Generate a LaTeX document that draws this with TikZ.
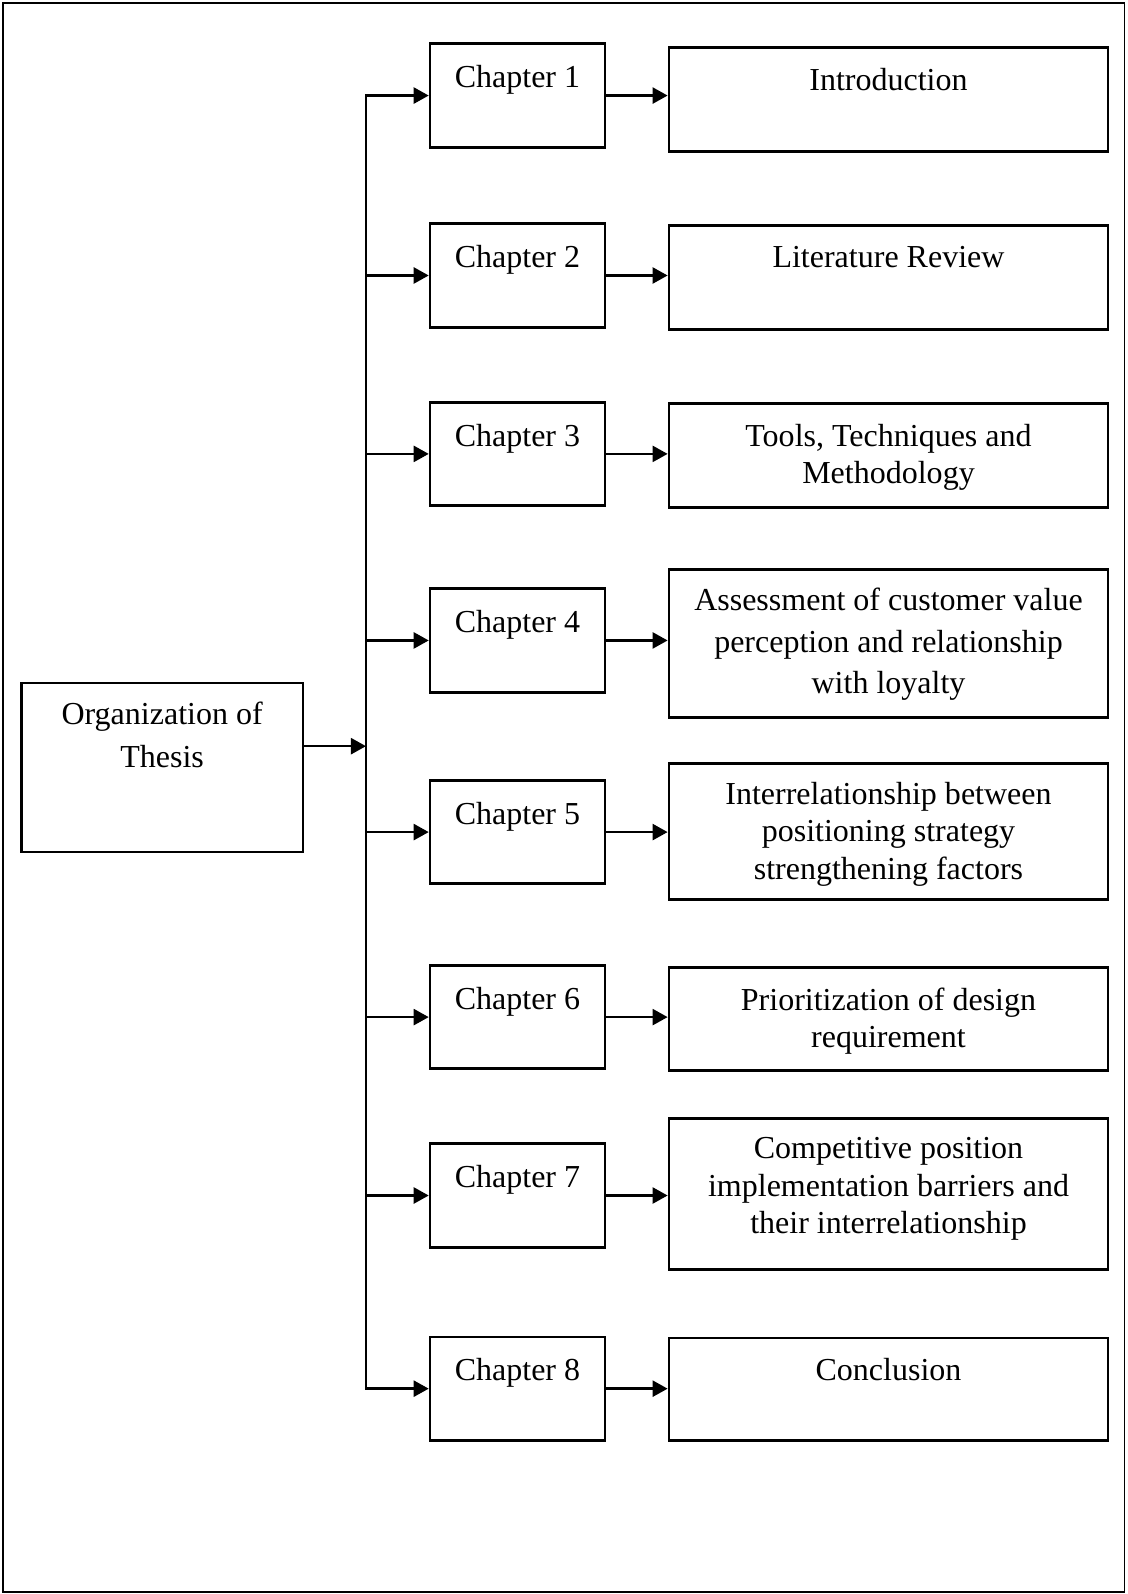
\documentclass[tikz,border=0pt]{standalone}
\usepackage{fontspec}
\setmainfont{Liberation Serif}
\usetikzlibrary{arrows.meta,fit}
\begin{document}
\begin{tikzpicture}[x=0.50812pt,y=-0.50812pt,
  box/.style={draw, line width=1.3pt, inner sep=0pt},
  txt/.style={anchor=north, inner sep=0pt, align=center,
              font=\fontsize{16pt}{18.8pt}\selectfont},
  lh/.style={font=\fontsize{16pt}{#1}\selectfont},
  wire/.style={line width=1.2pt},
  conn/.style={wire, -{Triangle[length=7.5pt,width=8pt]}}]

\useasboundingbox (0,0) rectangle (1109,1568);
\draw[line width=0.8pt] (3,3) rectangle (1106,1566);

% root box
\node[box, fit={(21,672) (298,838)}] (org) {};
\node[txt, lh=21.3pt] (orgt) at (159.5,690) {Organization of\\Thesis};

% chapter boxes
\node[box, fit={(423,43)   (595,145)}]  (c1) {};
\node[box, fit={(423,220)  (595,322)}]  (c2) {};
\node[box, fit={(423,396)  (595,497)}]  (c3) {};
\node[box, fit={(423,579)  (595,681)}]  (c4) {};
\node[box, fit={(423,768)  (595,869)}]  (c5) {};
\node[box, fit={(423,950)  (595,1051)}] (c6) {};
\node[box, fit={(423,1125) (595,1227)}] (c7) {};
\node[box, fit={(423,1315) (595,1417)}] (c8) {};

\node[txt] (c1t) at (509,63.5)   {Chapter 1};
\node[txt] (c2t) at (509,240.5)  {Chapter 2};
\node[txt] (c3t) at (509,416.5)  {Chapter 3};
\node[txt] (c4t) at (509,599.5)  {Chapter 4};
\node[txt] (c5t) at (509,788.5)  {Chapter 5};
\node[txt] (c6t) at (509,970.5)  {Chapter 6};
\node[txt] (c7t) at (509,1145.5) {Chapter 7};
\node[txt] (c8t) at (509,1335.5) {Chapter 8};

% content boxes
\node[box, fit={(658,47)   (1090,149)}]  (r1) {};
\node[box, fit={(658,222)  (1090,324)}]  (r2) {};
\node[box, fit={(658,397)  (1090,499)}]  (r3) {};
\node[box, fit={(658,560)  (1090,706)}]  (r4) {};
\node[box, fit={(658,751)  (1090,885)}]  (r5) {};
\node[box, fit={(658,952)  (1090,1053)}] (r6) {};
\node[box, fit={(658,1100) (1090,1249)}] (r7) {};
\node[box, fit={(658,1316) (1090,1417)}] (r8) {};

\node[txt] (r1t) at (874,67)  {Introduction};
\node[txt] (r2t) at (874,242) {Literature Review};
\node[txt, lh=18.3pt] (r3t) at (874,417) {Tools, Techniques and\\Methodology};
\node[txt, lh=20.8pt] (r4t) at (874,578) {Assessment of customer value\\perception and relationship\\with loyalty};
\node[txt] (r5t) at (874,769) {Interrelationship between\\positioning strategy\\strengthening factors};
\node[txt] (r6t) at (874,971) {Prioritization of design\\requirement};
\node[txt] (r7t) at (874,1118.5) {Competitive position\\implementation barriers and\\their interrelationship};
\node[txt] (r8t) at (874,1336) {Conclusion};

% distribution bus
\coordinate (bustop) at (360,94);
\coordinate (busbot) at (360,1366);
\coordinate (busin)  at (360,734);
\draw[wire, line cap=rect] (bustop) -- (busbot);
\draw[conn] (org.east |- busin) -- (busin);

% bus to chapters, chapters to their contents
\foreach \k in {1,...,8}{
  \draw[conn] (bustop |- c\k.west) -- (c\k.west);
  \draw[conn] (c\k.east) -- (c\k.east -| r\k.west);
}
\end{tikzpicture}
\end{document}
